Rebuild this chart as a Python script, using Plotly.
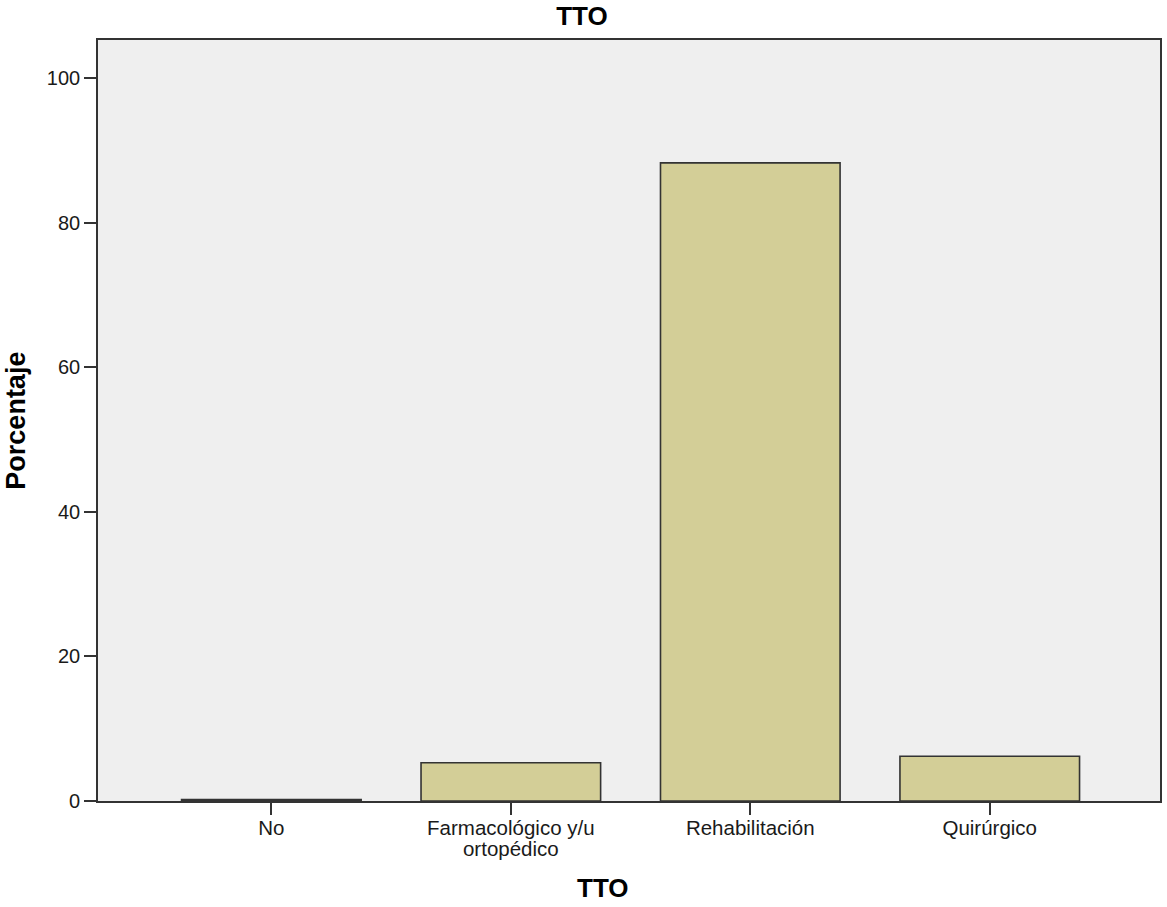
import plotly.graph_objects as go

categories = ["No", "Farmacológico y/u<br>ortopédico", "Rehabilitación", "Quirúrgico"]
percentages = [0.2, 5.3, 88.3, 6.2]
y_ticks = [0, 20, 40, 60, 80, 100]

W, H = 1167, 907
L, R, T, B = 98, 5, 40, 106

font_family = "Liberation Sans, Arial, sans-serif"

# tight line spacing for wrapped tick labels: smaller base font, larger span text
def tick_label(text, px=20.5):
    return "<br>".join(f'<span style="font-size:{px}px">{p}</span>' for p in text.split("<br>"))

fig = go.Figure()
fig.add_trace(go.Bar(
    x=list(range(len(categories))),
    y=percentages,
    width=0.75,
    marker=dict(color="#D3CE97", line=dict(color="#333333", width=1.6)),
    hoverinfo="skip",
))

fig.update_layout(
    width=W, height=H,
    margin=dict(l=L, r=R, t=T, b=B),
    paper_bgcolor="white",
    plot_bgcolor="#EFEFEF",
    showlegend=False,
    font=dict(family=font_family, size=20, color="#1a1a1a"),
    title=dict(text="<b>TTO</b>", x=582 / W, xanchor="center",
               y=1 - 16 / H, yref="container", yanchor="middle",
               font=dict(size=26, color="black", family=font_family)),
    xaxis=dict(
        range=[-0.724, 3.711],
        tickmode="array",
        tickvals=list(range(len(categories))),
        ticktext=[tick_label(c) for c in categories],
        ticks="outside", ticklen=12, tickwidth=1.5, tickcolor="#333333",
        showline=True, linecolor="#333333", linewidth=1.6, mirror=True,
        showgrid=False, zeroline=False,
        tickfont=dict(size=16.5),
    ),
    yaxis=dict(
        range=[0, 105.3],
        tickmode="array",
        tickvals=y_ticks,
        ticks="outside", ticklen=12, tickwidth=1.5, tickcolor="#333333",
        showline=True, linecolor="#333333", linewidth=1.6, mirror=True,
        showgrid=False, zeroline=False,
        tickfont=dict(size=20),
    ),
)

plot_w = W - L - R
plot_h = H - T - B
fig.add_annotation(
    text="<b>TTO</b>", xref="paper", yref="paper",
    x=(604 - L) / plot_w, y=-(888 - (H - B)) / plot_h,
    xanchor="center", yanchor="middle", showarrow=False,
    font=dict(size=26, color="black", family=font_family),
)
fig.add_annotation(
    text="<b>Porcentaje</b>", xref="paper", yref="paper",
    x=-(L - 15) / plot_w, y=0.5, textangle=-90,
    xanchor="center", yanchor="middle", showarrow=False,
    font=dict(size=27, color="black", family=font_family),
)

fig.write_html("out.html", config={"displayModeBar": False},
               post_script="document.body.style.margin='0';")
